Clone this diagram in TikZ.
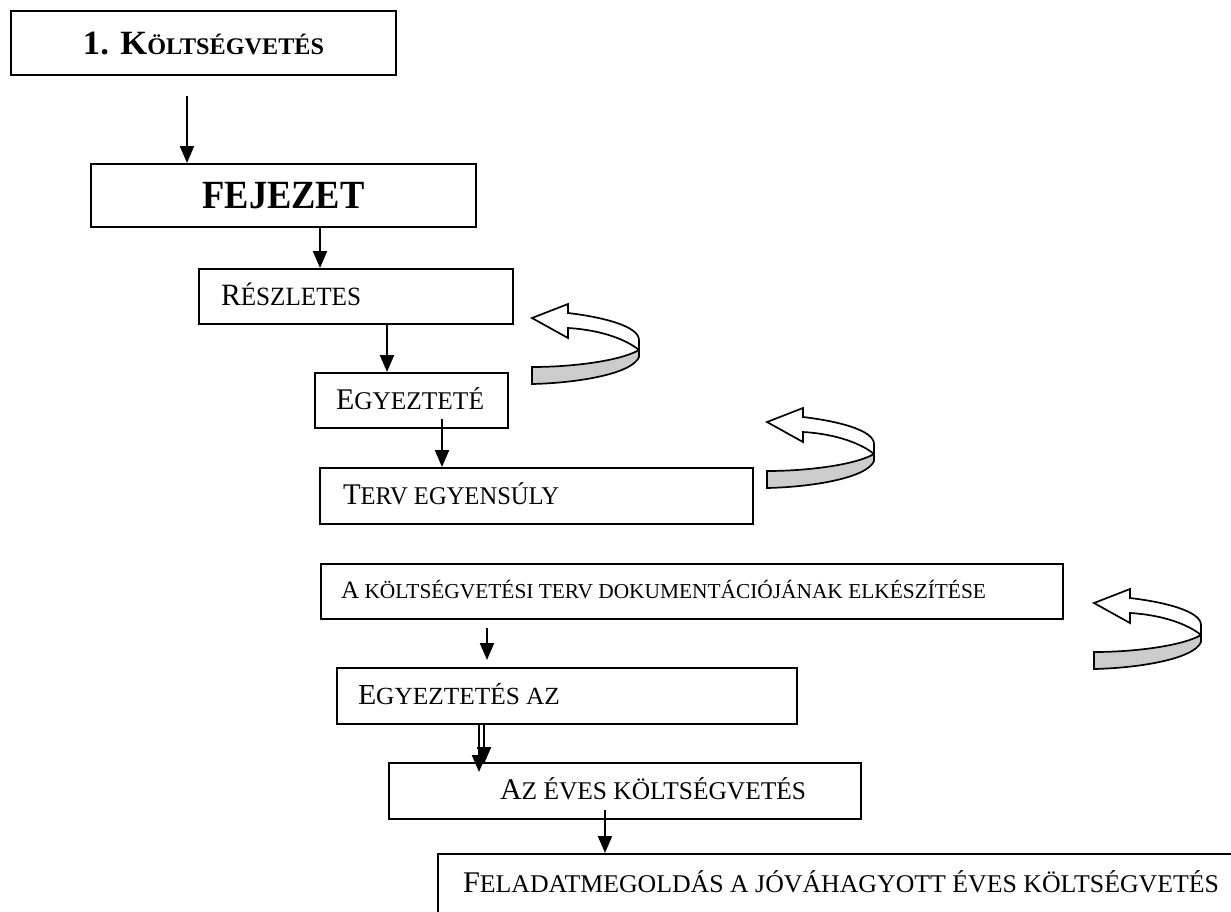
\documentclass[tikz,border=0pt]{standalone}
\usepackage{graphicx}
\usepackage{fontspec}
\setmainfont{Liberation Serif}
\usetikzlibrary{arrows.meta}

% first letters at full size (#1), the rest as capitals reduced by #2 percent
\newcommand\fsc[4]{{\fontsize{#1pt}{#1pt}\selectfont #3}{\fontsize{\the\dimexpr #1pt*#2/100\relax}{#1pt}\selectfont #4}}
% set a text to a given width
\newcommand\fitw[2]{\resizebox{#1pt}{\height}{#2}}
% left-indented text filling a box of given width
\newcommand\lefttext[3]{\makebox[#1pt][l]{\hspace*{#2pt}#3}}

\tikzset{
  turn/.pic={
    % back half of the ribbon: the arrow pointing left
    \filldraw[fill=white, line width=1.7pt, line join=miter]
      (0,0) -- (36,-14) -- (36,-5)
      .. controls (70,-1) and (107,8) .. (107,22)
      -- (107,32)
      .. controls (95,22) and (70,12) .. (36,10)
      -- (36,20) -- cycle;
    % front half of the ribbon, shaded
    \filldraw[fill=black!20, line width=1.7pt, line join=miter]
      (107,32) .. controls (88,43) and (40,49) .. (0,49)
      -- (0,66)
      .. controls (45,65) and (100,56) .. (107,39)
      -- cycle;
  }
}

\begin{document}
\begin{tikzpicture}[x=1pt,y=-1pt,
  box/.style={draw, line width=2pt, inner sep=0pt, anchor=north west},
  arr/.style={line width=2.2pt, -{Triangle[length=17pt,width=14pt]}}]
\useasboundingbox (0,0) rectangle (1231,911);
\clip (0,0) rectangle (1231,911);

% boxes
\node[box, minimum width=385pt, minimum height=64pt, text height=23pt, text depth=1pt, font=\bfseries] (a) at (10,10)
  {\fitw{241}{\fsc{34}{70}{1. K}{ÖLTSÉGVETÉS}}};
\node[box, minimum width=385pt, minimum height=63pt, text height=27pt, text depth=1pt] (b) at (90,163)
  {\fitw{162}{\fontsize{40pt}{40pt}\bfseries FEJEZET}};
\node[box, minimum height=55pt, text height=20.5pt, text depth=3pt] (c) at (198,268)
  {\lefttext{314}{22}{\fitw{140}{\fsc{31}{85}{R}{ÉSZLETES}}}};
\node[box, minimum height=55pt, text height=20pt, text depth=3pt] (d) at (314,372)
  {\lefttext{193}{21}{\fitw{148}{\fsc{30}{85}{E}{GYEZTETÉ}}}};
\node[box, minimum height=56pt, text height=20.5pt, text depth=3pt] (e) at (319,467)
  {\lefttext{433}{23}{\fitw{216}{\fsc{30}{85}{T}{ERV EGYENSÚLY}}}};
\node[box, minimum height=55pt, text height=17pt, text depth=3pt] (f) at (320,563)
  {\lefttext{742}{20}{\fitw{645}{\fsc{25}{85}{A}{ KÖLTSÉGVETÉSI TERV DOKUMENTÁCIÓJÁNAK ELKÉSZÍTÉSE}}}};
\node[box, minimum height=56pt, text height=19.5pt, text depth=3pt] (g) at (336,667)
  {\lefttext{460}{21}{\fitw{202}{\fsc{29}{85}{E}{GYEZTETÉS AZ}}}};
\node[box, minimum height=56pt, text height=20pt, text depth=3pt] (h) at (388,762)
  {\lefttext{472}{111}{\fitw{306}{\fsc{30}{85}{A}{Z ÉVES KÖLTSÉGVETÉS}}}};
\node[box, minimum height=60pt, text height=20pt, text depth=3pt] (i) at (437,853)
  {\lefttext{820}{25}{\fitw{756}{\fsc{30}{85}{F}{ELADATMEGOLDÁS A JÓVÁHAGYOTT ÉVES KÖLTSÉGVETÉS}}}};

% connectors
\coordinate (s1) at (187,96);
\draw[arr] (s1) -- (s1 |- b.north);
\coordinate (k2) at (320,0);
\draw[arr] (b.south -| k2) -- (c.north -| k2);
\coordinate (k3) at (387,0);
\draw[arr] (c.south -| k3) -- (d.north -| k3);
\coordinate (k4) at (442,419);
\draw[arr] (k4) -- (k4 |- e.north);
\coordinate (s5) at (487,628);
\coordinate (t5) at (487,660);
\draw[arr] (s5) -- (t5);
\coordinate (k6a) at (479,772);
\coordinate (k6b) at (484,764);
\draw[arr] (g.south -| k6a) -- (k6a);
\draw[arr] (g.south -| k6b) -- (k6b);
\coordinate (k7) at (605,810);
\draw[arr] (k7) -- (k7 |- i.north);

% turning arrows
\pic at (532,318) {turn};
\pic at (767,422) {turn};
\pic at (1094,603) {turn};
\end{tikzpicture}
\end{document}
